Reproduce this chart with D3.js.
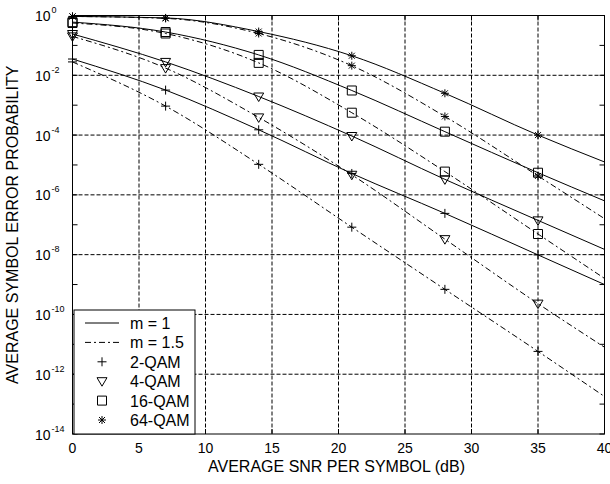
<!DOCTYPE html>
<html>
<head>
<meta charset="utf-8">
<script src="https://cdn.jsdelivr.net/npm/d3@7"></script>
<style>
  body { margin: 0; background: #fff; }
  text { font-family: "Liberation Sans", Arial, sans-serif; fill: #000; }
</style>
</head>
<body>
<svg width="610" height="484"></svg>
<script>
// SNR points (dB) where the curves were read; markers sit at all but the last
var snr = [0, 7, 14, 21, 28, 35, 40];
var markerCount = 6;

// symbol error probability, m = 1 (solid) and m = 1.5 (dash-dot)
var qam2_m1   = [3.5e-2, 3.2e-3, 1.5e-4, 5.2e-6, 2.4e-7, 9.8e-9, 1.0e-9];
var qam2_m15  = [2.8e-2, 9.3e-4, 1.05e-5, 8.3e-8, 6.9e-10, 5.8e-12, 1.8e-13];
var qam4_m1   = [0.24, 2.8e-2, 1.95e-3, 9.3e-5, 3.3e-6, 1.4e-7, 1.5e-8];
var qam4_m15  = [0.2, 1.74e-2, 3.9e-4, 4.7e-6, 3.3e-8, 2.3e-10, 8e-12];
var qam16_m1  = [0.6, 0.28, 4.8e-2, 3.1e-3, 1.3e-4, 5.5e-6, 6.3e-7];
var qam16_m15 = [0.56, 0.25, 2.6e-2, 5.6e-4, 6e-6, 4.9e-8, 1.6e-9];
var qam64_m1  = [0.93, 0.83, 0.29, 4.5e-2, 2.5e-3, 1.0e-4, 1.26e-5];
var qam64_m15 = [0.93, 0.8, 0.25, 2.1e-2, 4.2e-4, 4.3e-6, 1.6e-7];

var xTicks = [0, 5, 10, 15, 20, 25, 30, 35, 40];
var yExponents = [0, -2, -4, -6, -8, -10, -12, -14];
var legendLabels = ["m = 1", "m = 1.5", "2-QAM", "4-QAM", "16-QAM", "64-QAM"];

var dashDot = "6,3,2,3";

var series = [
  { values: qam2_m1,   marker: "plus",   dash: null },
  { values: qam2_m15,  marker: "plus",   dash: dashDot },
  { values: qam4_m1,   marker: "tri",    dash: null },
  { values: qam4_m15,  marker: "tri",    dash: dashDot },
  { values: qam16_m1,  marker: "square", dash: null },
  { values: qam16_m15, marker: "square", dash: dashDot },
  { values: qam64_m1,  marker: "star",   dash: null },
  { values: qam64_m15, marker: "star",   dash: dashDot }
];

var svg = d3.select("svg");
var pL = 72.5, pR = 604.5, pT = 15.5, pB = 434;

var x = d3.scaleLinear().domain([0, 40]).range([pL, pR]);
var y = d3.scaleLog().domain([1e-14, 1]).range([pB, pT]);

// grid (dotted)
var grid = svg.append("g").attr("stroke", "#000").attr("stroke-width", 1).attr("stroke-dasharray", "4,2");
xTicks.slice(1, -1).forEach(function(t) {
  grid.append("line").attr("x1", x(t)).attr("x2", x(t)).attr("y1", pT).attr("y2", pB);
});
yExponents.slice(1, -1).forEach(function(e) {
  grid.append("line").attr("x1", pL).attr("x2", pR).attr("y1", y(Math.pow(10, e))).attr("y2", y(Math.pow(10, e)));
});

// ticks on all four sides, pointing in
var ticks = svg.append("g").attr("stroke", "#000").attr("stroke-width", 1);
xTicks.forEach(function(t) {
  ticks.append("line").attr("x1", x(t)).attr("x2", x(t)).attr("y1", pB).attr("y2", pB - 5);
  ticks.append("line").attr("x1", x(t)).attr("x2", x(t)).attr("y1", pT).attr("y2", pT + 5);
});
d3.range(-14, 1).forEach(function(e) {
  var yy = y(Math.pow(10, e));
  ticks.append("line").attr("x1", pL).attr("x2", pL + 5).attr("y1", yy).attr("y2", yy);
  ticks.append("line").attr("x1", pR).attr("x2", pR - 5).attr("y1", yy).attr("y2", yy);
});

// curves
var line = d3.line()
    .x(function(d, i) { return x(snr[i]); })
    .y(function(d) { return y(d); })
    .curve(d3.curveMonotoneX);

var plot = svg.append("g");
series.forEach(function(s) {
  plot.append("path")
      .attr("d", line(s.values))
      .attr("fill", "none")
      .attr("stroke", "#000")
      .attr("stroke-width", 1)
      .attr("stroke-dasharray", s.dash);
});

// marker shapes
function markerPath(type) {
  if (type == "plus") return "M-4.5,0H4.5M0,-4.5V4.5";
  if (type == "tri") return "M-5,-3.5H5L0,5Z";
  if (type == "square") return "M-4.5,-4.5H4.5V4.5H-4.5Z";
  return "M-4,0H4M0,-4V4M-3,-3L3,3M-3,3L3,-3";
}

series.forEach(function(s) {
  plot.selectAll(null)
    .data(s.values.slice(0, markerCount))
    .enter().append("path")
      .attr("transform", function(d, i) { return "translate(" + x(snr[i]) + "," + y(d) + ")"; })
      .attr("d", markerPath(s.marker))
      .attr("fill", "none")
      .attr("stroke", "#000")
      .attr("stroke-width", 1);
});

// frame
svg.append("rect")
    .attr("x", pL).attr("y", pT)
    .attr("width", pR - pL).attr("height", pB - pT)
    .attr("fill", "none").attr("stroke", "#000").attr("stroke-width", 1);

// x tick labels
svg.append("g").selectAll("text")
  .data(xTicks)
  .enter().append("text")
    .attr("x", function(d) { return x(d); })
    .attr("y", 453)
    .attr("text-anchor", "middle")
    .attr("font-size", "14px")
    .text(function(d) { return d; });

// y tick labels, 10 with superscript exponent
var yl = svg.append("g").selectAll("g")
  .data(yExponents)
  .enter().append("g")
    .attr("transform", function(d) { return "translate(0," + y(Math.pow(10, d)) + ")"; });
yl.append("text")
    .attr("x", 35).attr("y", 5.5)
    .attr("font-size", "14px")
    .text("10");
yl.append("text")
    .attr("x", 51.5).attr("y", -2.5)
    .attr("font-size", "9px")
    .text(function(d) { return d; });

// axis titles
svg.append("text")
    .attr("x", (pL + pR) / 2 - 2).attr("y", 472)
    .attr("text-anchor", "middle")
    .attr("font-size", "16px")
    .text("AVERAGE SNR PER SYMBOL (dB)");

svg.append("text")
    .attr("transform", "translate(18," + ((pT + pB) / 2) + ") rotate(-90)")
    .attr("text-anchor", "middle")
    .attr("font-size", "16px")
    .text("AVERAGE SYMBOL ERROR PROBABILITY");

// legend
var lg = svg.append("g");
lg.append("rect")
    .attr("x", 74).attr("y", 310).attr("width", 121).attr("height", 124)
    .attr("fill", "#fff").attr("stroke", "#000").attr("stroke-width", 1);

var legendMarks = [
  { dash: null, marker: null },
  { dash: dashDot, marker: null },
  { dash: null, marker: "plus" },
  { dash: null, marker: "tri" },
  { dash: null, marker: "square" },
  { dash: null, marker: "star" }
];

legendLabels.forEach(function(label, i) {
  var yy = 323 + i * 19.4;
  var m = legendMarks[i];
  if (m.marker) {
    lg.append("path")
        .attr("transform", "translate(102," + yy + ")")
        .attr("d", markerPath(m.marker))
        .attr("fill", "none").attr("stroke", "#000");
  } else {
    lg.append("line")
        .attr("x1", 85).attr("x2", 119).attr("y1", yy).attr("y2", yy)
        .attr("stroke", "#000").attr("stroke-dasharray", m.dash);
  }
  lg.append("text")
      .attr("x", 130).attr("y", yy + 6)
      .attr("font-size", "16px")
      .text(label);
});
</script>
</body>
</html>
